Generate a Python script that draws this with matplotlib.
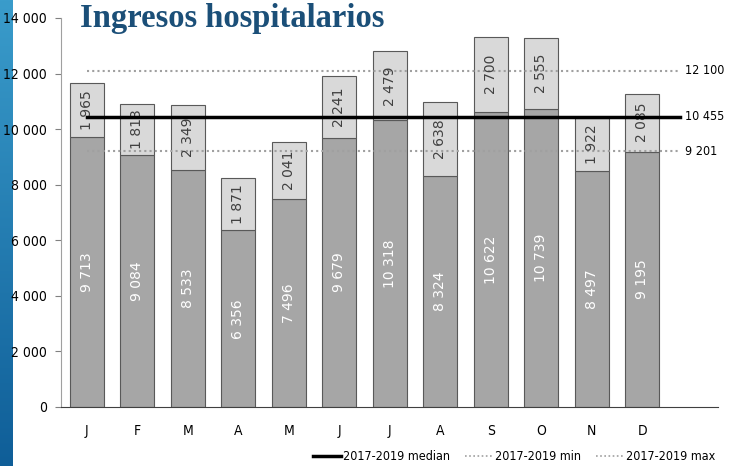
import numpy as np
import matplotlib
matplotlib.use("Agg")
import matplotlib.pyplot as plt
from matplotlib.lines import Line2D

mois = ['J', 'F', 'M', 'A', 'M', 'J', 'J', 'A', 'S', 'O', 'N', 'D']
base_2020 = [9713, 9084, 8533, 6356, 7496, 9679, 10318, 8324, 10622, 10739, 8497, 9195]
ecart = [1965, 1813, 2349, 1871, 2041, 2241, 2479, 2638, 2700, 2555, 1922, 2085]
ref_max = 12100
ref_median = 10455
ref_min = 9201

narrow = dict(family='DejaVu Sans', stretch='condensed')

def fmt(v):
    return f"{v:,}".replace(",", " ")

fig = plt.figure(figsize=(7.29, 4.66), dpi=100)

# bande bleue a gauche
bande = fig.add_axes([0, 0, 13 / 729, 1])
grad = np.linspace(0, 1, 256).reshape(-1, 1)
cmap = matplotlib.colors.LinearSegmentedColormap.from_list('b', ['#3a9ccb', '#0f5e98'])
bande.imshow(grad, aspect='auto', cmap=cmap, extent=[0, 1, 0, 1], origin='upper')
bande.axis('off')

ax = fig.add_axes([61 / 729, 1 - 407 / 466, (718 - 61) / 729, (407 - 18) / 466])
x = np.arange(len(mois))
ax.bar(x, base_2020, width=0.67, color='#a6a6a6', edgecolor='#595959', linewidth=0.8, zorder=2)
ax.bar(x, ecart, bottom=base_2020, width=0.67, color='#d9d9d9', edgecolor='#595959', linewidth=0.8, zorder=2)

for i in range(len(mois)):
    ax.text(x[i], base_2020[i] / 2, fmt(base_2020[i]), rotation=90, ha='center', va='center',
            color='white', fontsize=10, zorder=4)
    ax.text(x[i], base_2020[i] + ecart[i] / 2, fmt(ecart[i]), rotation=90, ha='center', va='center',
            color='#404040', fontsize=10, zorder=4)

ax.plot([0, 11.75], [ref_max, ref_max], color='#a0a0a0', linestyle=(0, (1, 1.5)), linewidth=1.5, zorder=3)
ax.plot([0, 11.75], [ref_min, ref_min], color='#a0a0a0', linestyle=(0, (1, 1.5)), linewidth=1.5, zorder=3)
ax.plot([0, 11.75], [ref_median, ref_median], color='black', linewidth=2.5, zorder=5)

for v in [ref_max, ref_median, ref_min]:
    ax.text(11.85, v, fmt(v), ha='left', va='center', fontsize=9, clip_on=False, **narrow)

ax.set_xlim(-0.51, 12.5)
ax.set_ylim(0, 14000)
ax.set_yticks(range(0, 14001, 2000))
ax.set_yticklabels([fmt(v) for v in range(0, 14001, 2000)], fontsize=10, **narrow)
ax.set_xticks(x)
ax.set_xticklabels(mois, fontsize=10, **narrow)
ax.tick_params(axis='x', length=0, pad=12)
ax.tick_params(axis='y', length=4, color='#808080', pad=6)
for s in ['top', 'right']:
    ax.spines[s].set_visible(False)
ax.spines['left'].set_color('#a0a0a0')
ax.spines['bottom'].set_color('#404040')

fig.text(80 / 729, 1 - 18 / 466, 'Ingresos hospitalarios', fontsize=23.5, fontweight='bold',
         family=['Liberation Serif', 'DejaVu Serif'], color='#1b4f78', ha='left', va='center')

handles = [Line2D([], [], color='black', linewidth=2.5),
           Line2D([], [], color='#a0a0a0', linestyle=(0, (1, 1.5)), linewidth=1.2),
           Line2D([], [], color='#a0a0a0', linestyle=(0, (1, 1.5)), linewidth=1.2)]
fig.legend(handles, ['2017-2019 median', '2017-2019 min', '2017-2019 max'], loc='lower right',
           bbox_to_anchor=(0.997, -0.018), ncol=3, frameon=False, handlelength=2.2, handletextpad=0.2,
           columnspacing=1.2, prop={'family': 'DejaVu Sans', 'stretch': 'condensed', 'size': 9})

fig.savefig('out.png', dpi=100)
